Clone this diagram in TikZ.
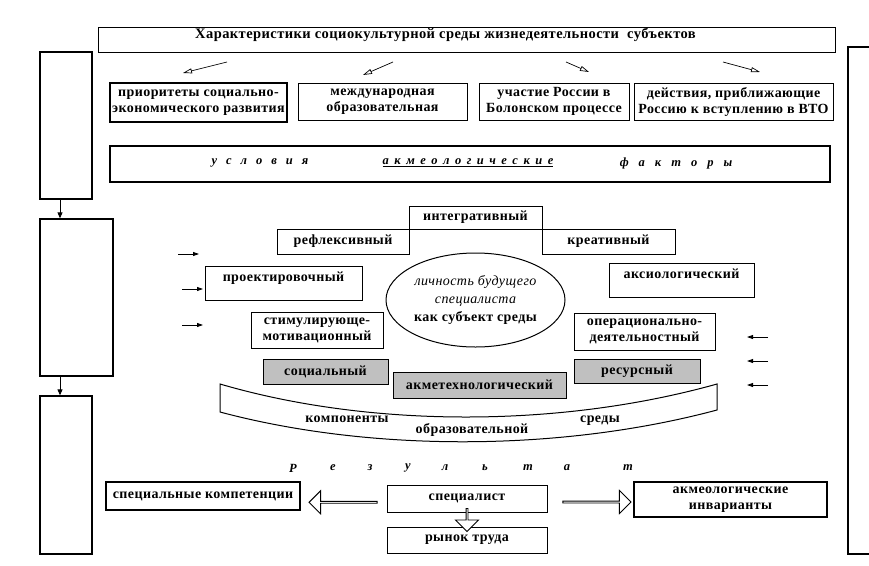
\documentclass[tikz,border=0pt]{standalone}
\usepackage{fontspec}
\setmainfont{Liberation Serif}[LetterSpace=3]
\usetikzlibrary{arrows.meta,shapes.arrows,shapes.geometric,calc}

\definecolor{boxgray}{RGB}{192,192,192}
\newcommand{\boxfont}{\fontsize{14}{16}\selectfont}
\newcommand{\wide}[2]{{\spaceskip=#1\relax #2}}

\tikzset{
  box/.style={draw, line width=1pt, inner sep=0pt, align=center, font=\boxfont\bfseries},
  thickbox/.style={box, line width=1.6pt},
  graybox/.style={box, fill=boxgray},
  colbox/.style={draw, line width=1.3pt, inner sep=0pt},
  downarrow/.style={line width=0.8pt, -{Triangle[length=6pt,width=5pt]}},
  sidearrow/.style={line width=0.8pt, -{Triangle[length=6pt,width=4pt]}},
  toparrow/.style={line width=0.7pt, -{Triangle[open,length=9pt,width=5pt]}},
  blockarrow/.style={draw, line width=0.9pt, fill=white, single arrow, inner sep=0pt,
    single arrow head extend=5pt, single arrow head indent=0pt, minimum width=23pt},
  spacedtext/.style={font=\fontsize{12.5}{14}\selectfont\bfseries\itshape, inner sep=0pt}
}

\begin{document}
\begin{tikzpicture}[x=1pt,y=-1pt]
  \useasboundingbox (0,0) rectangle (869,565);

  % left column and right bracket
  \node[colbox, minimum width=52pt, minimum height=147pt] (col1) at (66,125.5) {};
  \node[colbox, minimum width=73pt, minimum height=157pt] (col2) at (76.5,297.5) {};
  \node[colbox, minimum width=52pt, minimum height=158pt] (col3) at (66,475) {};
  \coordinate (colx) at (60,0);
  \draw[downarrow] (col1.south -| colx) -- (col2.north -| colx);
  \draw[downarrow] (col2.south -| colx) -- (col3.north -| colx);
  \draw[line width=1.2pt] (869,47) -- (848,47) -- (848,554) -- (869,554);

  % characteristics
  \node[box, minimum width=737pt, minimum height=25pt] (title) at (466.5,39.5) {};
  \node[font=\fontsize{14.5}{16}\selectfont\bfseries, inner sep=0pt] (titletext) at (445.5,35)
    {Характеристики социокультурной среды жизнедеятельности\ \ субъектов};
  \foreach \i/\xa/\ya/\xb/\yb in {1/227/62/183/73, 2/393/62/363/75, 3/566/62/589/72, 4/723/62/760/72} {
    \coordinate (ta\i) at (\xa,\ya);
    \coordinate (tb\i) at (\xb,\yb);
    \draw[toparrow] (ta\i) -- (tb\i);
  }
  \node[thickbox, minimum width=177pt, minimum height=39pt] (prior) at (198.5,102.5)
    {приоритеты социально-\\экономического развития};
  \node[box, minimum width=169pt, minimum height=37pt] (mezhd) at (382.5,101.5)
    {международная\\образовательная};
  \node[box, minimum width=150pt, minimum height=37pt] (bolon) at (554,101.5)
    {участие России в\\Болонском процессе};
  \node[box, minimum width=199pt, minimum height=37pt] (vto) at (733.5,101.5)
    {действия, приближающие\\Россию к вступлению в ВТО};

  % conditions
  \node[box, line width=1.3pt, minimum width=720pt, minimum height=36pt] (usl) at (470,164) {};
  \node[spacedtext] (uslw) at (260,163) {\wide{9pt}{у с л о в и я}};
  \node[spacedtext] (akmw) at (468,163) {\underline{\wide{5.5pt}{а к м е о л о г и ч е с к и е}}};
  \node[spacedtext] (faktw) at (676,163) {\wide{10pt}{ф а к т о р ы}};

  % components
  \node[box, minimum width=133pt, minimum height=23pt] (integr) at (475.5,217.5) {интегративный};
  \node[box, minimum width=132pt, minimum height=25pt] (refl) at (343,241.5) {рефлексивный};
  \node[box, minimum width=133pt, minimum height=25pt] (kreat) at (608.5,241.5) {креативный};
  \node[draw, line width=1pt, ellipse, minimum width=179pt, minimum height=94pt, inner sep=0pt,
    align=center, font=\fontsize{14}{18}\selectfont] (lichn) at (475.5,300)
    {\itshape личность будущего\\\itshape специалиста\\\bfseries как субъект среды};
  \node[box, minimum width=157pt, minimum height=34pt, text height=13pt, text depth=17pt] (proekt) at (283.5,283) {проектировочный};
  \node[box, minimum width=132pt, minimum height=36pt] (stim) at (317,330) {стимулирующе-\\мотивационный};
  \node[box, minimum width=145pt, minimum height=34pt, text height=13pt, text depth=17pt] (aksio) at (681.5,280) {аксиологический};
  \node[box, minimum width=141pt, minimum height=37pt] (oper) at (644.5,331.5) {операционально-\\деятельностный};
  \node[graybox, minimum width=125pt, minimum height=25pt] (socl) at (325.5,371.5) {социальный};
  \node[graybox, minimum width=173pt, minimum height=26pt] (akmet) at (479.5,385) {акметехнологический};
  \node[graybox, minimum width=126pt, minimum height=24pt] (resurs) at (637,371) {ресурсный};
  \foreach \i/\x/\y in {1/178/254, 2/182/289, 3/182/325} {
    \coordinate (ls\i) at (\x,\y);
    \coordinate (le\i) at (\x+21,\y);
    \draw[sidearrow] (ls\i) -- (le\i);
  }
  \foreach \i/\y in {1/337, 2/361, 3/385} {
    \coordinate (rs\i) at (768,\y);
    \coordinate (re\i) at (747,\y);
    \draw[sidearrow] (rs\i) -- (re\i);
  }

  % environment band
  \draw[line width=1pt] (220,384) .. controls (370,428) and (560,428) .. (717,384)
    -- (717,410) .. controls (560,452) and (370,452) .. (220,412) -- cycle;
  \node[font=\boxfont\bfseries] (komp) at (347,419) {компоненты};
  \node[font=\boxfont\bfseries] (obraz) at (472,430) {образовательной};
  \node[font=\boxfont\bfseries] (sredy) at (600,421) {среды};

  % result
  \foreach \i/\ch/\x in {1/Р/293, 2/е/333, 3/з/370, 4/у/408, 5/л/445, 6/ь/485, 7/т/528, 8/а/567, 9/т/628}
    \node[spacedtext] (res\i) at (\x,468) {\ch};
  \node[box, line width=1.3pt, minimum width=194pt, minimum height=28pt] (compet) at (203,496) {специальные компетенции};
  \node[box, minimum width=160pt, minimum height=27pt] (spec) at (467,498.5) {специалист};
  \node[box, minimum width=160pt, minimum height=26pt] (rynok) at (467,540) {рынок труда};
  \node[box, line width=1.3pt, minimum width=193pt, minimum height=35pt] (invar) at (730.5,499.5) {акмеологические\\инварианты};
  \node[blockarrow, minimum height=68pt, shape border rotate=180, yshift=-5pt] (toleft)
    at ($(spec.west)!0.5!(compet.east)$) {};
  \node[blockarrow, minimum height=68pt, yshift=-3pt, xshift=6pt] (toright)
    at ($(spec.east)!0.5!(invar.west)$) {};
  \node[blockarrow, minimum height=23pt, shape border rotate=270] (todown)
    at ($(spec.south)!0.5!(rynok.north)$) {};
\end{tikzpicture}
\end{document}
